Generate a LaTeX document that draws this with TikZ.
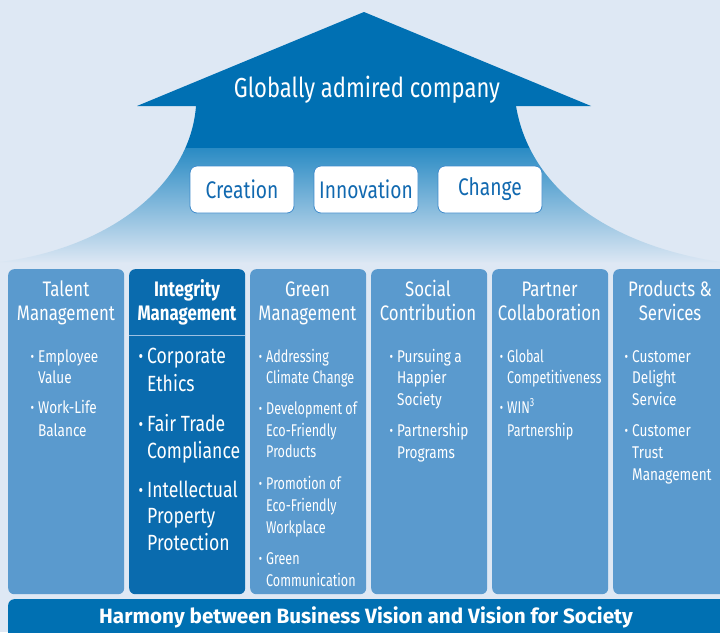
\documentclass[tikz,border=0pt]{standalone}
\usepackage{fontspec}
\setmainfont{Fira Sans}[FakeStretch=0.8]
\newfontfamily\condfont{Fira Sans}[FakeStretch=0.74]
\newfontfamily\barfont{Fira Sans}
\definecolor{bg}{HTML}{DEE8F4}
\definecolor{arrowdark}{HTML}{0070B3}
\definecolor{shadetop}{HTML}{2A8BC4}
\definecolor{shademid}{HTML}{7AAEDA}
\definecolor{colA}{HTML}{5A9ACE}
\definecolor{colB}{HTML}{0A6BAE}
\definecolor{barc}{HTML}{0070B2}
\definecolor{boxtext}{HTML}{1169B0}
\definecolor{boxline}{HTML}{3D8ACB}
\definecolor{sepline}{HTML}{9CC0E2}
\newcommand\bul{\makebox[0pt][r]{\raisebox{1pt}{\scalebox{.8}{\textbullet}}\hspace{4pt}}}
\newcommand\collines[4]{%
  \foreach \yy/\lt [count=\i] in {#4} {\node[#3, name=#2\i] at (#1,\yy) {\lt};}}
\begin{document}
\begin{tikzpicture}[x=1pt,y=-1pt,
  colbox/.style={anchor=north west, minimum width=116pt, minimum height=325pt, inner sep=0, rounded corners=6pt},
  hdr/.style={anchor=base, inner sep=0, text=white, font=\fontsize{21}{22}\selectfont},
  hdrb/.style={anchor=base, inner sep=0, text=white, font=\fontsize{21}{22}\selectfont\bfseries},
  txt/.style={anchor=base west, inner sep=0, text=white, font=\fontsize{17}{18}\selectfont},
  txtc/.style={anchor=base west, inner sep=0, text=white, font=\condfont\fontsize{17}{18}\selectfont},
  txtb/.style={anchor=base west, inner sep=0, text=white, font=\fontsize{22}{24}\selectfont},
  valbox/.style={draw=boxline, line width=0.8pt, fill=white, rounded corners=7pt, minimum width=104pt, minimum height=47pt, inner sep=0, text=boxtext, font=\fontsize{24}{25}\selectfont}
]
\useasboundingbox (0,0) rectangle (720,632);
\clip (0,0) rectangle (720,632);
\fill[bg] (0,0) rectangle (720,632);
% shaft with gradient
\def\shaft{(196,106) -- (516,106) .. controls (530,190) and (610,245) .. (720,262) -- (0,262) .. controls (110,248) and (190,185) .. (196,106) -- cycle}
\begin{scope}
  \clip \shaft;
  \shade[top color=shadetop, middle color=shademid, bottom color=bg] (0,148) rectangle (720,264);
  \fill[arrowdark] (0,100) rectangle (720,148);
\end{scope}
% arrow head
\fill[arrowdark] (364,12) -- (591,106) -- (137,106) -- cycle;
\node[inner sep=0, text=white, font=\fontsize{27.5}{29}\selectfont] (title) at (367,90) {Globally admired company};
% value boxes
\node[valbox] (creation) at (242,189.5) {Creation};
\node[valbox] (innovation) at (366,189.5) {Innovation};
\node[valbox] (change) at (490,189.5) {Change};
% columns
\node[colbox, fill=colA] (c1) at (8,269) {};
\node[colbox, fill=colB] (c2) at (129,269) {};
\node[colbox, fill=colA] (c3) at (250,269) {};
\node[colbox, fill=colA] (c4) at (371,269) {};
\node[colbox, fill=colA] (c5) at (492,269) {};
\node[colbox, fill=colA] (c6) at (613,269) {};
\draw[sepline, line width=1pt] (c2.west |- 0,335) coordinate (sepL) -- (c2.east |- 0,335) coordinate (sepR);
% headers
\collines{66}{ha}{hdr}{296/Talent, 320/Management}
\collines{187}{hb}{hdrb}{296/Integrity, 320/Management}
\collines{307.5}{hc}{hdr}{296/Green, 320/Management}
\collines{428}{hd}{hdr}{296/Social, 320/Contribution}
\collines{549.5}{he}{hdr}{296/Partner, 320/Collaboration}
\collines{670}{hf}{hdr}{296/Products \&, 320/Services}
% bullets
\collines{38}{ta}{txt}{362/\bul Employee, 383/Value, 413/\bul Work-Life, 436/Balance}
\collines{147}{tb}{txtb}{363/\bul Corporate, 391/Ethics, 431/\bul Fair Trade, 458/Compliance, 497/\bul Intellectual, 523/Property, 550/Protection}
\collines{266}{tc}{txtc}{362/\bul Addressing, 383/Climate Change, 414/\bul Development of, 436/Eco-Friendly, 457/Products, 489/\bul Promotion of, 511/Eco-Friendly, 533/Workplace, 564/\bul Green, 586/Communication}
\collines{397}{td}{txt}{362/\bul Pursuing a, 383/Happier, 405/Society, 436/\bul Partnership, 458/Programs}
\collines{507}{te}{txtc}{362/\bul Global, 383/Competitiveness, 413/\bul WIN\textsuperscript{3}, 436/Partnership}
\collines{632}{tf}{txt}{362/\bul Customer, 383/Delight, 405/Service, 436/\bul Customer, 458/Trust, 480/Management}
% bottom bar
\node[anchor=north west, minimum width=730pt, minimum height=40pt, inner sep=0, fill=barc, rounded corners=6pt] (bar) at (8,599) {};
\node[inner sep=0, text=white, font=\barfont\bfseries\fontsize{20.7}{22}\selectfont] (bartext) at (366,617) {Harmony between Business Vision and Vision for Society};
\end{tikzpicture}
\end{document}
